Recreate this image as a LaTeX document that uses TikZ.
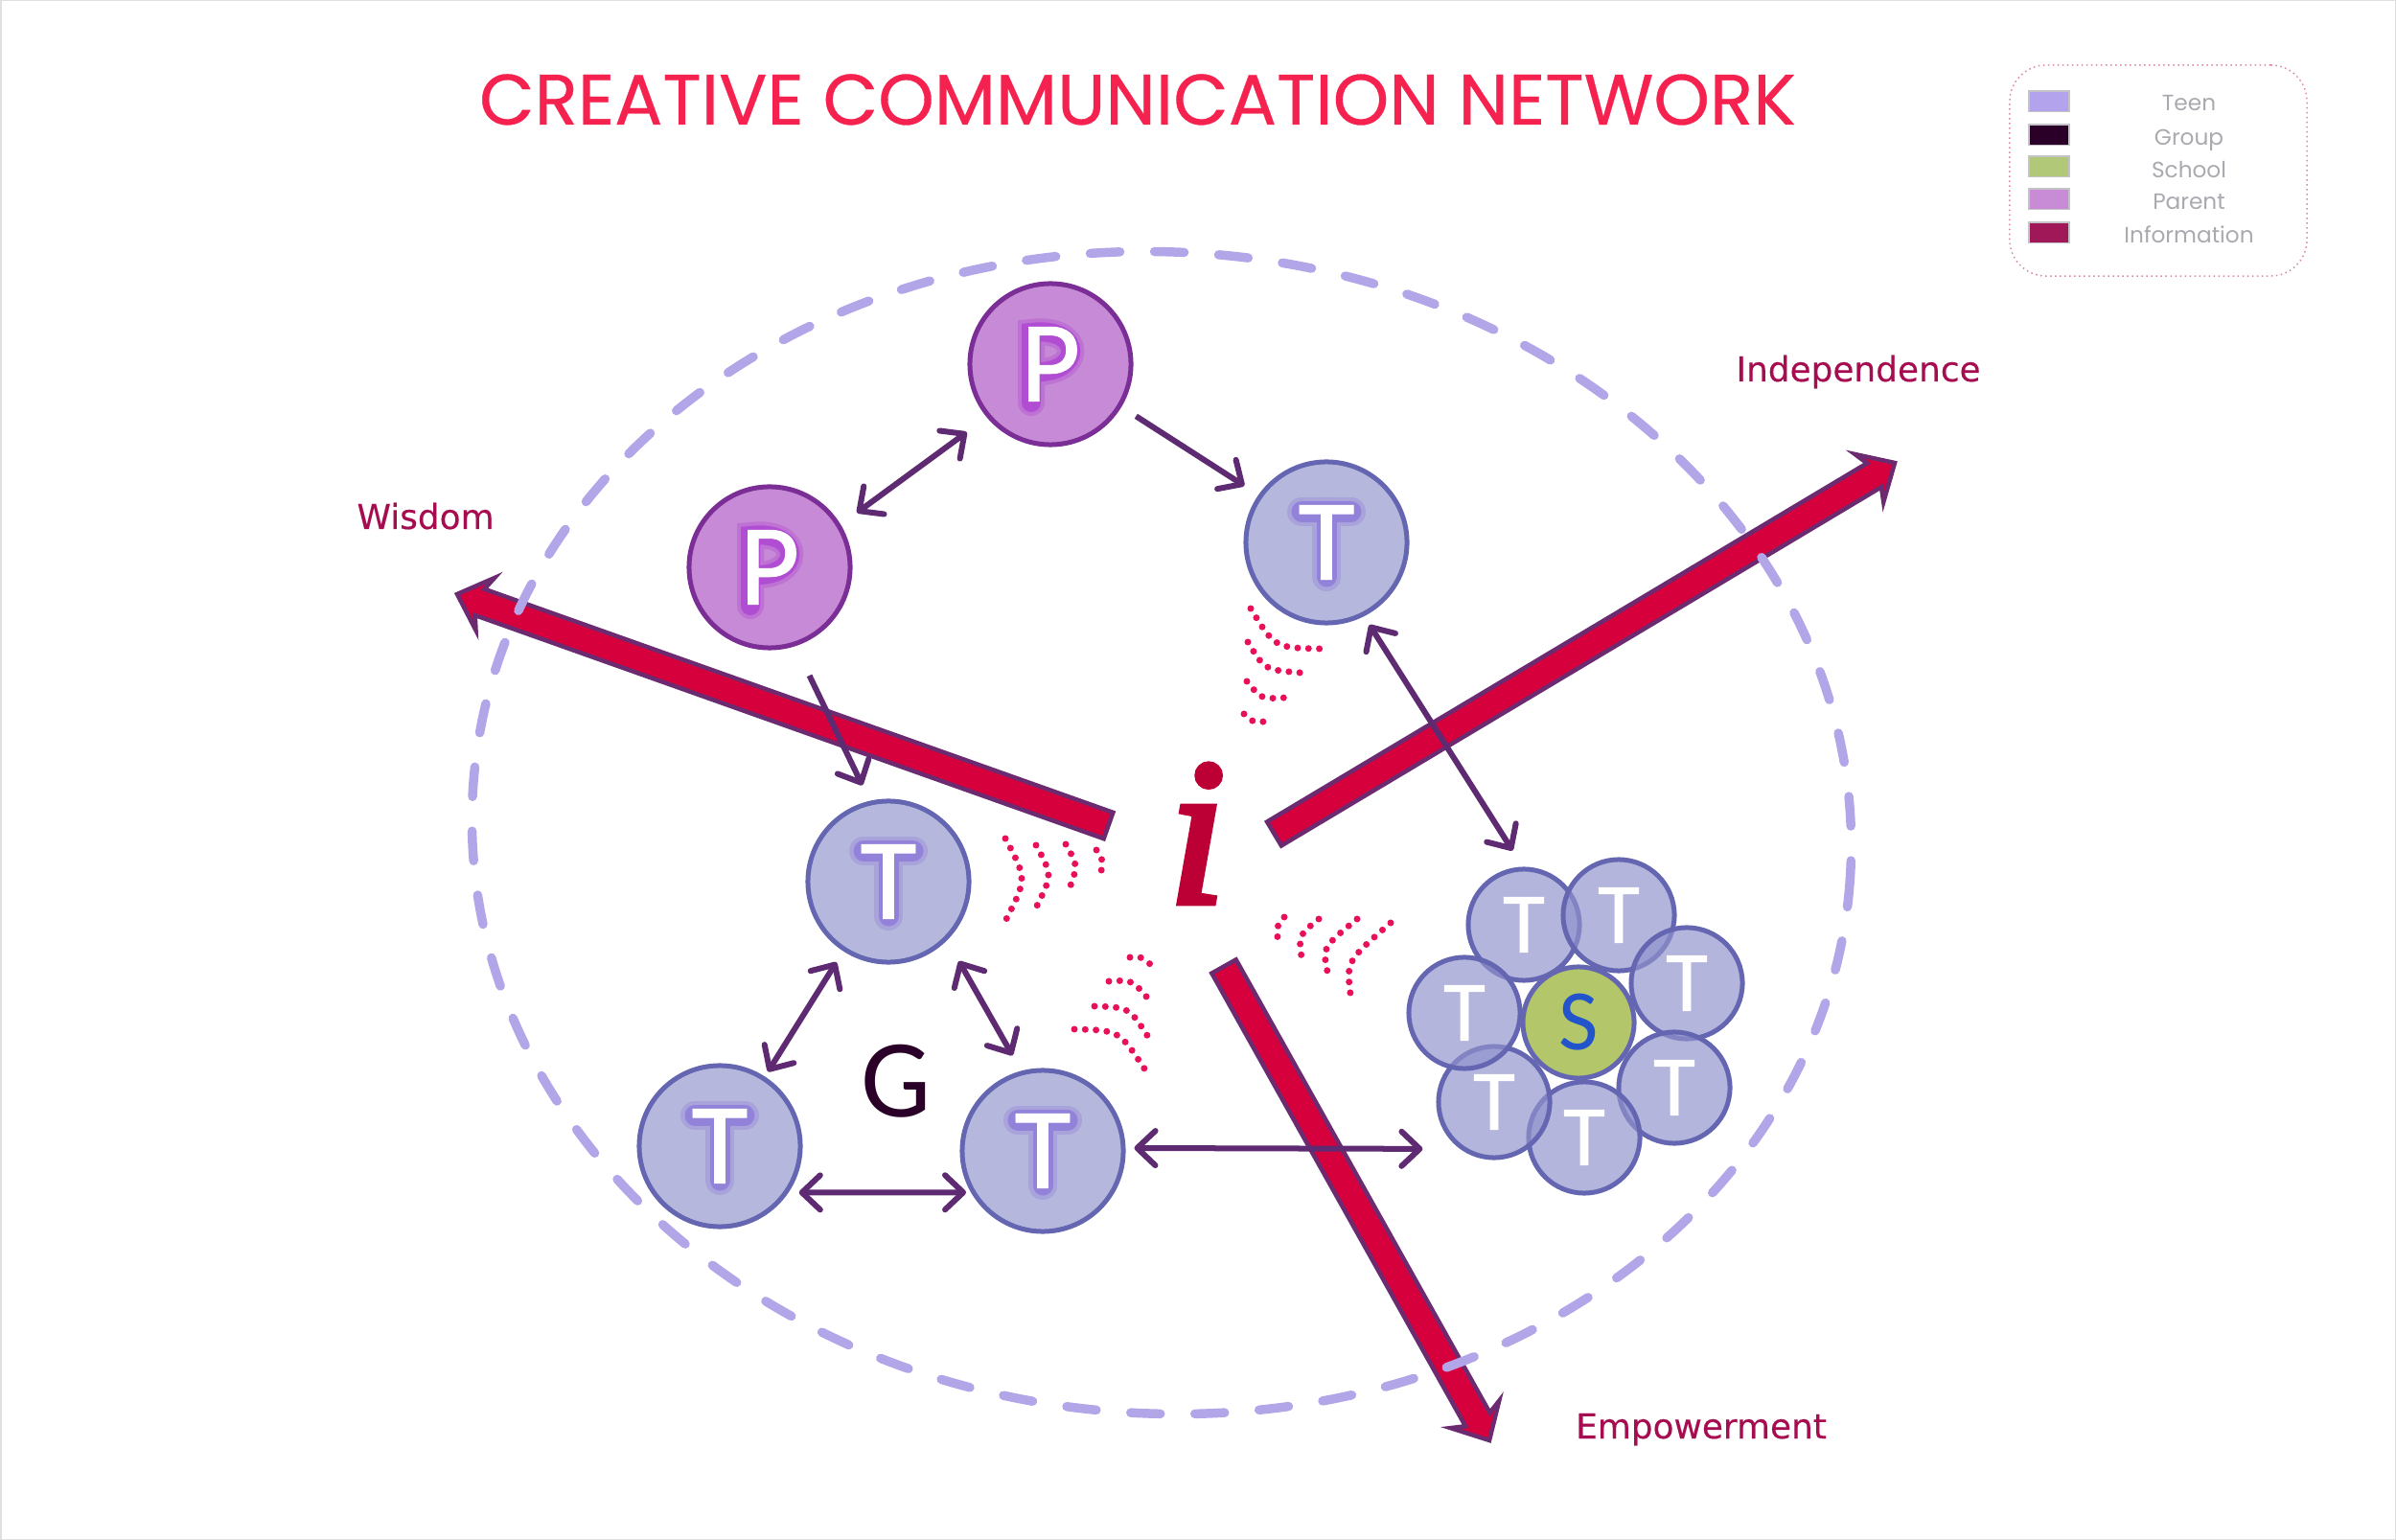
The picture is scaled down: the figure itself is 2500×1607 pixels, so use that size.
\documentclass[tikz,border=0pt]{standalone}
\usepackage{fontspec}
\usetikzlibrary{arrows.meta,calc}
\setmainfont{Liberation Sans}
\newfontfamily\letterfont{Carlito}
\newfontfamily\discfont[FakeBold=.7]{Carlito}
\newfontfamily\titlefont[FakeBold=.4]{Poppins}
\newfontfamily\keyfont{Poppins}
\newfontfamily\goalfont[FakeBold=.3]{DejaVu Sans}
\newfontfamily\infofont[FakeBold=3]{Liberation Serif}
\definecolor{teenfill}{HTML}{B5B8DC}
\definecolor{teenline}{HTML}{6566B2}
\definecolor{teenglow}{HTML}{7A5AD8}
\definecolor{clusterfill}{HTML}{8F92CC}
\definecolor{parentfill}{HTML}{C78AD6}
\definecolor{parentline}{HTML}{7B2E96}
\definecolor{parentglow}{HTML}{A020D0}
\definecolor{schoolfill}{HTML}{B4C66A}
\definecolor{ringcol}{HTML}{B3A6E8}
\definecolor{linkcol}{HTML}{5E2A72}
\definecolor{infofill}{HTML}{D6003C}
\definecolor{infoline}{HTML}{6C2A70}
\definecolor{wavecol}{HTML}{E8105A}
\definecolor{goalcol}{HTML}{A60C50}
\definecolor{titlecol}{HTML}{F5224F}
\definecolor{keytext}{HTML}{A9AAAF}
\definecolor{keyline}{HTML}{C4C4C8}
\definecolor{keyframe}{HTML}{D98A9C}
\definecolor{keyteen}{HTML}{B3A3EC}
\definecolor{keygroup}{HTML}{2A0028}
\definecolor{keyschool}{HTML}{B0C878}
\definecolor{keyparent}{HTML}{C88CD6}
\definecolor{keyinfo}{HTML}{A01858}
\definecolor{schooltext}{HTML}{2255CC}
\tikzset{
    disc/.style={circle, inner sep=0pt, minimum size=1.68cm, line width=.05cm, font=\discfont\fontsize{34.4}{40}\selectfont, text=white},
    teen/.style={disc, draw=teenline, fill=teenfill, path picture={
        \draw[teenglow, opacity=.22, line width=.30cm, line cap=round] ($(path picture bounding box.center)+(-26,-32)$) -- ($(path picture bounding box.center)+(26,-32)$) ($(path picture bounding box.center)+(0,-32)$) -- ($(path picture bounding box.center)+(0,36)$);
        \draw[teenglow, opacity=.45, line width=.21cm, line cap=round] ($(path picture bounding box.center)+(-26,-32)$) -- ($(path picture bounding box.center)+(26,-32)$) ($(path picture bounding box.center)+(0,-32)$) -- ($(path picture bounding box.center)+(0,36)$);}},
    parentdisc/.style={disc, draw=parentline, fill=parentfill, path picture={
        \draw[parentglow, opacity=.22, line width=.28cm, line cap=round] ($(path picture bounding box.center)+(-20,40)$) -- ($(path picture bounding box.center)+(-20,-33)$) .. controls ($(path picture bounding box.center)+(35,-40)$) and ($(path picture bounding box.center)+(35,12)$) .. ($(path picture bounding box.center)+(-20,8)$);
        \draw[parentglow, opacity=.45, line width=.20cm, line cap=round] ($(path picture bounding box.center)+(-20,40)$) -- ($(path picture bounding box.center)+(-20,-33)$) .. controls ($(path picture bounding box.center)+(35,-40)$) and ($(path picture bounding box.center)+(35,12)$) .. ($(path picture bounding box.center)+(-20,8)$);}},
    member/.style={circle, inner sep=0pt, minimum size=1.16cm, draw=teenline, fill=clusterfill, fill opacity=.68, text opacity=1, line width=.05cm, font=\discfont\fontsize{25.6}{30}\selectfont, text=white},
    schooldisc/.style={circle, inner sep=0pt, minimum size=1.16cm, draw=teenline, fill=schoolfill, line width=.05cm, font=\letterfont\fontsize{25.6}{30}\selectfont, text=schooltext},
    link/.style={linkcol, line width=.06cm, -{Straight Barb[length=.19cm,width=.36cm,round]}},
    dlink/.style={linkcol, line width=.06cm, {Straight Barb[length=.19cm,width=.36cm,round]}-{Straight Barb[length=.19cm,width=.36cm,round]}},
    wave/.style={wavecol, line width=.07cm, line cap=round, dash pattern=on 0pt off .113cm},
    infoshaft/.style={draw=infoline, fill=infofill, line width=.045cm, line join=miter},
    ring/.style={ringcol, line width=.095cm, line cap=round, dash pattern=on .31cm off .36cm},
    goal/.style={anchor=base, text=goalcol, font=\goalfont\fontsize{10.2}{12}\selectfont},
    keybox/.style={rectangle, inner sep=0pt, minimum width=.42cm, minimum height=.215cm, draw=keyline, line width=.015cm},
    keyname/.style={anchor=base, text=keytext, font=\keyfont\fontsize{6.6}{8}\selectfont}
}
\newcommand{\bigarrow}[2]{
    \coordinate (#2neck) at ($(#2)!.25cm!(#1)$);
    \coordinate (#2barb) at ($(#2)!.31cm!(#1)$);
    \draw[infoshaft] ($(#1)!.145cm!90:(#2)$) -- ($(#2neck)!.145cm!90:(#2)$) -- ($(#2barb)!.29cm!90:(#2)$) -- (#2) -- ($(#2barb)!.29cm!-90:(#2)$) -- ($(#2neck)!.145cm!-90:(#2)$) -- ($(#1)!.145cm!-90:(#2)$) -- cycle;
}
\begin{document}
\begin{tikzpicture}[x=.01cm,y=-.01cm]
            \useasboundingbox (0,0) rectangle (2500,1607);
            \draw[gray!25, line width=.03cm] (0,0) rectangle (2500,1607);

            \node[anchor=base, text=titlecol, font=\titlefont\fontsize{21.2}{25}\selectfont] (title) at (1187,130) {CREATIVE COMMUNICATION NETWORK};

            \node[draw=keyframe, line width=.015cm, densely dotted, rounded corners=.38cm, minimum width=3.1cm, minimum height=2.2cm] (legend) at (2252,178) {};
            \node[keybox, fill=keyteen] (boxTeen) at (2138,106) {};
            \node[keybox, fill=keygroup] (boxGroup) at (2138,141) {};
            \node[keybox, fill=keyschool] (boxSchool) at (2138,174) {};
            \node[keybox, fill=keyparent] (boxParent) at (2138,208) {};
            \node[keybox, fill=keyinfo] (boxInfo) at (2138,243) {};
            \node[keyname] (keyTeen) at (2284,116) {Teen};
            \node[keyname] (keyGroup) at (2284,152) {Group};
            \node[keyname] (keySchool) at (2284,186) {School};
            \node[keyname] (keyParent) at (2284,219) {Parent};
            \node[keyname] (keyInfo) at (2284,254) {Information};

            \coordinate (wisdomTail) at (1156.5,861.5);
            \coordinate (wisdomTip) at (477,620);
            \coordinate (independenceTail) at (1329.5,870);
            \coordinate (independenceTip) at (1977,483);
            \coordinate (empowermentTail) at (1277,1008.5);
            \coordinate (empowermentTip) at (1554,1503);
            \bigarrow{wisdomTail}{wisdomTip}
            \bigarrow{independenceTail}{independenceTip}
            \bigarrow{empowermentTail}{empowermentTip}

            \draw[ring, rotate around={-3.7:(1212,869)}] (1212,869) ellipse (720 and 606);

            \node[goal] (wisdom) at (444,552) {Wisdom};
            \node[goal] (independence) at (1939,398) {Independence};
            \node[goal] (empowerment) at (1775,1501) {Empowerment};
            \node[anchor=base, text=infofill!88!black, font=\infofont\itshape\fontsize{62}{70}\selectfont] (info) at (1249,942) {i};

            \node[parentdisc] (Ptop) at (1096,380) {P};
            \node[parentdisc] (Pleft) at (803,592) {P};
            \node[teen] (Tright) at (1384,566) {T};
            \node[teen] (Tmid) at (927,920) {T};
            \node[teen] (Tleft) at (751,1196) {T};
            \node[teen] (Tlow) at (1088,1201) {T};
            \node[anchor=center, text=keygroup, font=\letterfont\fontsize{33}{38}\selectfont] (G) at (935,1128) {G};

            \node[member] (Ta) at (1590,965) {T};
            \node[member] (Tb) at (1689,955) {T};
            \node[member] (Tc) at (1760,1026) {T};
            \node[member] (Td) at (1747,1135) {T};
            \node[member] (Te) at (1653,1187) {T};
            \node[member] (Tf) at (1559,1150) {T};
            \node[member] (Tg) at (1528,1057) {T};
            \node[schooldisc] (S) at (1647,1067) {S};

            \draw[dlink, shorten <=.26cm, shorten >=.21cm] (Ptop.220.6) -- (Pleft.31.2);
            \draw[link, shorten <=.18cm, shorten >=.175cm] (Ptop.-31.6) -- (Tright.145.5);
            \draw[link, shorten <=.34cm, shorten >=.18cm] (Pleft.-72.4) -- (Tmid.103.7);
            \draw[dlink, shorten <=.105cm, shorten >=.20cm] (Tright.-63.4) -- (Ta.91);
            \draw[dlink, shorten <=.135cm, shorten >=.06cm] (Tmid.237) -- (Tleft.57.7);
            \draw[dlink, shorten <=.25cm, shorten >=.185cm] (Tmid.-45.7) -- (Tlow.105.2);
            \draw[dlink, shorten <=.11cm, shorten >=.05cm] (Tleft.-34.8) -- (Tlow.210.8);
            \draw[dlink, shorten <=.09cm, shorten >=.39cm] (Tlow.2.7) -- (Tf.234);

            \draw[wave] (1305,635) .. controls (1330,676) .. (1378,677);
            \draw[wave] (1302,670) .. controls (1319.5,699) .. (1357,702);
            \draw[wave] (1301,711) .. controls (1316,729.5) .. (1341,728);
            \draw[wave] (1298,745) .. controls (1308,754) .. (1319,753);
            \draw[wave] (1049,875) .. controls (1071.5,917) .. (1050,959);
            \draw[wave] (1081,882) .. controls (1098,913) .. (1082,945);
            \draw[wave] (1112,881) .. controls (1124.5,903) .. (1117,924);
            \draw[wave] (1144,887) .. controls (1151,898) .. (1149,909);
            \draw[wave] (1340,957) .. controls (1332,967) .. (1333,978);
            \draw[wave] (1376,959) .. controls (1355,976) .. (1358,999);
            \draw[wave] (1416,959) .. controls (1380,988.5) .. (1385,1014);
            \draw[wave] (1451,963) .. controls (1405,1003) .. (1409,1037);
            \draw[wave] (1179,999) .. controls (1190,998) .. (1200,1006);
            \draw[wave] (1157,1024) .. controls (1181,1022.5) .. (1197,1041);
            \draw[wave] (1142,1050) .. controls (1178,1051) .. (1198,1082);
            \draw[wave] (1121,1074) .. controls (1167.5,1075) .. (1194,1115);
        \end{tikzpicture}
\end{document}
